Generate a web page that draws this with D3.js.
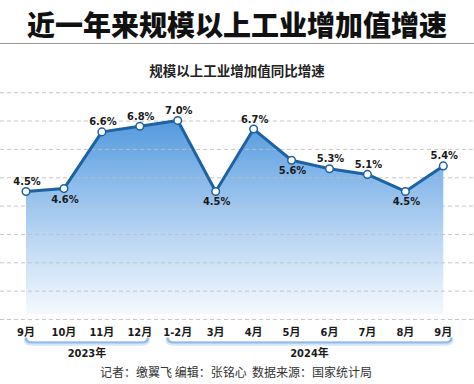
<!DOCTYPE html>
<html>
<head>
<meta charset="utf-8">
<script src="https://cdn.jsdelivr.net/npm/d3@7"></script>
<style>
  body { margin: 0; background: #fff; }
  svg { display: block; }
</style>
</head>
<body>
<svg width="474" height="384"></svg>
<script>
// 数据
const months = ["9月", "10月", "11月", "12月", "1-2月", "3月", "4月", "5月", "6月", "7月", "8月", "9月 "];
const growth = [4.5, 4.6, 6.6, 6.8, 7.0, 4.5, 6.7, 5.6, 5.3, 5.1, 4.5, 5.4];
const labelBelow = [false, true, false, false, false, true, false, true, false, false, true, false];
const yTicks = [0, 1, 2, 3, 4, 5, 6, 7, 8];
const years = [
  { label: "2023年", from: "9月", to: "12月" },
  { label: "2024年", from: "1-2月", to: "9月 " }
];

const svg = d3.select("svg"),
    width = +svg.attr("width");

const numFont = "'DejaVu Sans Condensed', 'DejaVu Sans', 'Noto Sans CJK SC', sans-serif";
const cjkFont = "'Noto Sans CJK SC', sans-serif";

const x = d3.scalePoint().domain(months).range([26, 443.3]);
const y = d3.scaleLinear().domain([0, 8]).range([319, 92.2]);

// 标题
svg.append("text")
    .attr("x", width / 2).attr("y", 24)
    .attr("text-anchor", "middle").attr("dominant-baseline", "central")
    .attr("font-family", cjkFont).attr("font-weight", 900)
    .attr("font-size", "28px").attr("fill", "#111")
    .text("近一年来规模以上工业增加值增速");

svg.append("line")
    .attr("x1", 0).attr("x2", width).attr("y1", 43.5).attr("y2", 43.5)
    .attr("stroke", "#999").attr("stroke-width", 1.2);

svg.append("text")
    .attr("x", 237).attr("y", 69.5)
    .attr("text-anchor", "middle").attr("dominant-baseline", "central")
    .attr("font-family", cjkFont).attr("font-weight", 700)
    .attr("font-size", "13.5px").attr("fill", "#222")
    .text("规模以上工业增加值同比增速");

// 渐变面积
const defs = svg.append("defs");
const grad = defs.append("linearGradient")
    .attr("id", "areaGrad")
    .attr("gradientUnits", "userSpaceOnUse")
    .attr("x1", 0).attr("x2", 0)
    .attr("y1", y(7)).attr("y2", y(0) - 4);
grad.append("stop").attr("offset", "0%").attr("stop-color", "#5399de");
grad.append("stop").attr("offset", "30%").attr("stop-color", "#88b9ea");
grad.append("stop").attr("offset", "60%").attr("stop-color", "#bad6f3");
grad.append("stop").attr("offset", "100%").attr("stop-color", "#f6f9fe");

const pts = months.map((m, i) => ({ m, v: growth[i], below: labelBelow[i] }));

const area = d3.area()
    .x(d => x(d.m))
    .y0(y(0) - 5)
    .y1(d => y(d.v));

svg.append("path")
    .datum(pts)
    .attr("d", area)
    .attr("fill", "url(#areaGrad)");

// 网格线
svg.append("g")
    .selectAll("line")
    .data(yTicks)
    .enter().append("line")
    .attr("x1", 0).attr("x2", width)
    .attr("y1", d => y(d) + 0.5).attr("y2", d => y(d) + 0.5)
    .attr("stroke", "#bdbdbd").attr("stroke-opacity", 0.85).attr("stroke-width", 1)
    .attr("stroke-dasharray", "4,3");

const line = d3.line()
    .x(d => x(d.m))
    .y(d => y(d.v));

svg.append("path")
    .datum(pts)
    .attr("d", line)
    .attr("fill", "none")
    .attr("stroke", "#1e62a3")
    .attr("stroke-width", 3)
    .attr("stroke-linejoin", "round");

svg.append("g")
    .selectAll("circle")
    .data(pts)
    .enter().append("circle")
    .attr("cx", d => x(d.m)).attr("cy", d => y(d.v))
    .attr("r", 3.8)
    .attr("fill", "#fff")
    .attr("stroke", "#1e62a3").attr("stroke-width", 1.5);

// 数值标签
svg.append("g")
    .selectAll("text")
    .data(pts)
    .enter().append("text")
    .attr("x", d => x(d.m) + 1)
    .attr("y", d => y(d.v) + (d.below ? 10.5 : -10))
    .attr("text-anchor", "middle").attr("dominant-baseline", "central")
    .attr("font-family", numFont).attr("font-weight", "bold")
    .attr("font-size", "11px").attr("fill", "#1a1a1a")
    .text(d => d.v.toFixed(1) + "%");

// 横轴标签
svg.append("g")
    .selectAll("text")
    .data(months)
    .enter().append("text")
    .attr("x", d => x(d)).attr("y", 332.5)
    .attr("text-anchor", "middle").attr("dominant-baseline", "central")
    .attr("font-family", numFont).attr("font-weight", "bold")
    .attr("font-size", "11px").attr("fill", "#1a1a1a")
    .text(d => d.trim());

// 年份括号
const by = 342.5;
const brackets = svg.append("g");
years.forEach(yr => {
    const xa = x(yr.from) - (yr.from === "1-2月" ? 10 : 0);
    const x2 = x(yr.to) + 8;
    const p = `M${xa},${by - 4} Q${xa},${by} ${xa + 6},${by} L${x2 - 6},${by} Q${x2},${by} ${x2},${by - 4}`;
    brackets.append("path").attr("d", p)
        .attr("fill", "none").attr("stroke", "#d7e6f6").attr("stroke-width", 4.5)
        .attr("stroke-linecap", "round").attr("transform", "translate(0,1)");
    brackets.append("path").attr("d", p)
        .attr("fill", "none").attr("stroke", "#8fbbe9").attr("stroke-width", 2.2)
        .attr("stroke-linecap", "round");
    svg.append("text")
        .attr("x", (xa + x2) / 2).attr("y", 353.5)
        .attr("text-anchor", "middle").attr("dominant-baseline", "central")
        .attr("font-family", numFont).attr("font-weight", "bold")
        .attr("font-size", "11px").attr("fill", "#1a1a1a")
        .text(yr.label);
});

// 署名
svg.append("text")
    .attr("x", 236).attr("y", 371)
    .attr("text-anchor", "middle").attr("dominant-baseline", "central")
    .attr("font-family", cjkFont).attr("font-size", "12px").attr("fill", "#333")
    .attr("xml:space", "preserve")
    .text("记者：缴翼飞 编辑：张铭心  数据来源：国家统计局");
</script>
</body>
</html>
